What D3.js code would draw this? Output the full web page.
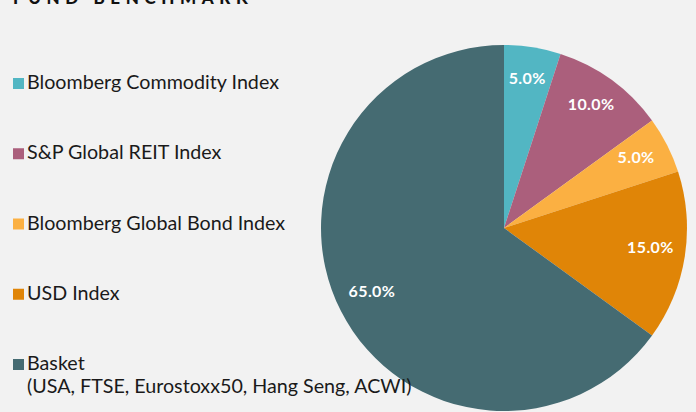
<!DOCTYPE html>
<html>
<head>
<meta charset="utf-8">
<script src="https://cdn.jsdelivr.net/npm/d3@7"></script>
<style>
  body { margin: 0; background: #f2f2f2; }
  svg { display: block; font-family: Lato, "Open Sans", sans-serif; }
</style>
</head>
<body>
<div id="vis"></div>
<script>
var categories = [
  "Bloomberg Commodity Index",
  "S&P Global REIT Index",
  "Bloomberg Global Bond Index",
  "USD Index",
  "Basket"
];
var subLabels = ["", "", "", "", "(USA, FTSE, Eurostoxx50, Hang Seng, ACWI)"];
var weights = [5, 10, 5, 15, 65];
var colors = ["#52b6c3", "#ab5f7c", "#fbb042", "#e08507", "#456b72"];

var width = 696, height = 412;
var radius = 183;
var cx = 504, cy = 228;

var svg = d3.select("#vis")
  .append("svg")
  .attr("width", width)
  .attr("height", height);

// title, cut off at the top like the original
svg.append("text")
  .attr("x", 13)
  .attr("y", 4)
  .attr("font-weight", 900)
  .attr("font-size", "17px")
  .attr("letter-spacing", "5.6px")
  .attr("fill", "#111")
  .text("FUND BENCHMARK");

var pie = d3.pie().sort(null).value(function (d) { return d; });
var arcs = pie(weights);
var arc = d3.arc().innerRadius(0).outerRadius(radius);
var labelArc = d3.arc().innerRadius(radius * 0.81).outerRadius(radius * 0.81);

var g = svg.append("g")
  .attr("transform", "translate(" + cx + "," + cy + ")");

g.selectAll("path")
  .data(arcs)
  .enter()
  .append("path")
  .attr("d", arc)
  .attr("fill", function (d, i) { return colors[i]; });

g.selectAll("text.lbl")
  .data(arcs)
  .enter()
  .append("text")
  .attr("class", "lbl")
  .attr("transform", function (d) { return "translate(" + labelArc.centroid(d) + ")"; })
  .attr("text-anchor", "middle")
  .attr("dy", "0.12em")
  .attr("fill", "#fff")
  .attr("font-weight", 700)
  .attr("font-size", "16px")
  .attr("letter-spacing", "0.4px")
  .text(function (d) { return d.data.toFixed(1) + "%"; });

// legend
var legY = d3.scalePoint().domain(categories).range([89, 370]);

var leg = svg.selectAll("g.leg")
  .data(categories)
  .enter()
  .append("g")
  .attr("class", "leg")
  .attr("transform", function (d) { return "translate(13," + legY(d) + ")"; });

leg.append("rect")
  .attr("x", 0)
  .attr("y", -11)
  .attr("width", 11)
  .attr("height", 11)
  .attr("fill", function (d, i) { return colors[i]; });

leg.append("text")
  .attr("x", 14)
  .attr("y", 0)
  .attr("font-size", "19.7px")
  .attr("fill", "#1a1a1a")
  .text(function (d) { return d; });

leg.append("text")
  .attr("x", 14)
  .attr("y", 23)
  .attr("font-size", "19.7px")
  .attr("fill", "#1a1a1a")
  .text(function (d, i) { return subLabels[i]; });
</script>
</body>
</html>
